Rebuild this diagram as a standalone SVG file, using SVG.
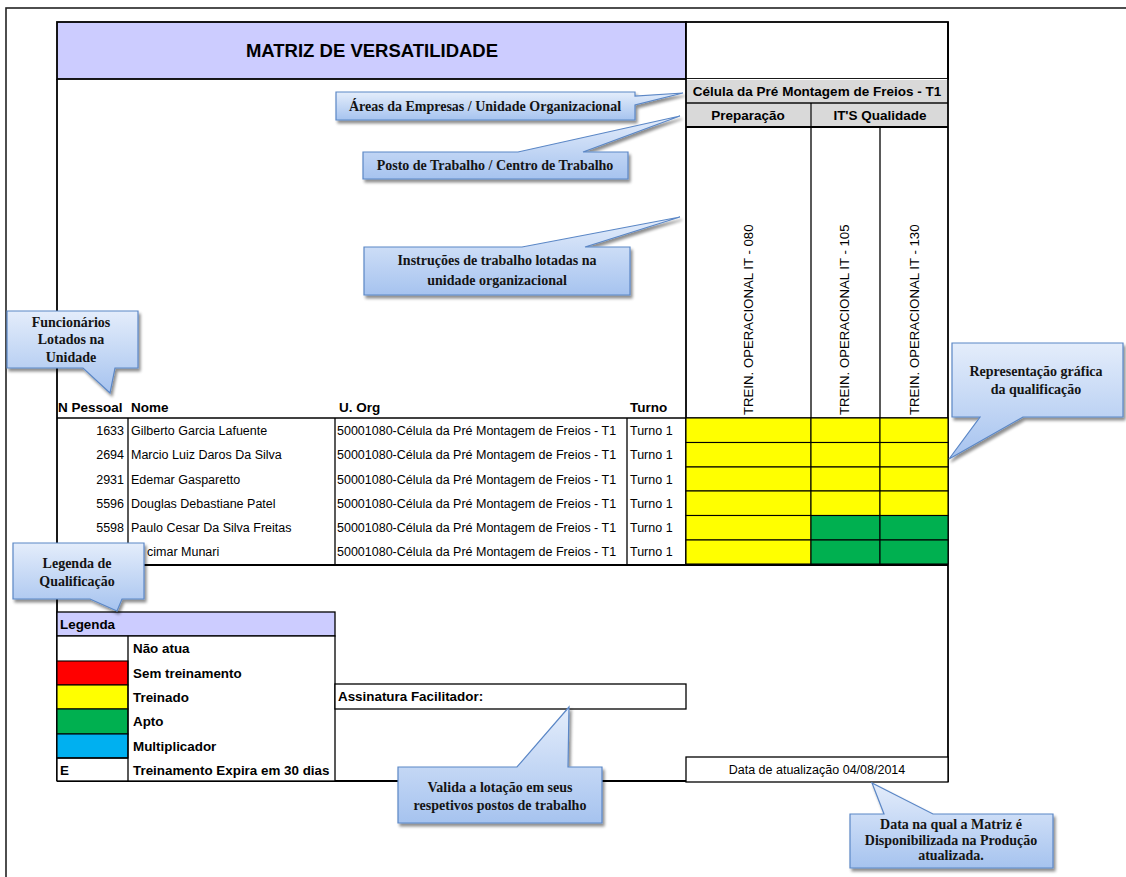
<svg xmlns="http://www.w3.org/2000/svg" width="1126" height="877" viewBox="0 0 1126 877">
<style>
.s{font-family:"Liberation Sans",Arial,sans-serif;fill:#000}
.b{font-weight:bold}
.t{font-size:12.5px}
.h{font-size:13.5px;font-weight:bold}
.lg{font-size:13.4px;font-weight:bold}
.ln{stroke:#000;stroke-width:1.3}
.th{stroke:#000;stroke-width:1.8}
.cell{stroke:#000;stroke-width:1.1}
.y{fill:#FFFF00}
.g{fill:#00B050}
.lav{fill:#CCCCFF}
.wh{fill:#fff}
.gr{fill:#D9D9D9;stroke:#fff;stroke-width:1}
.co{fill:url(#cg);stroke:#5b87c6;stroke-width:1.2;filter:url(#sh)}
.ct{font-family:"Liberation Serif","Times New Roman",serif;font-weight:bold;font-size:14px;fill:#141414;text-anchor:middle}
.rv{font-family:"Liberation Sans",Arial,sans-serif;font-size:13.2px;fill:#000}
</style>
<defs>
<linearGradient id="cg" x1="0" y1="0" x2="0" y2="1">
<stop offset="0" stop-color="#e4edfb"/>
<stop offset="1" stop-color="#a6c3ef"/>
</linearGradient>
<filter id="sh" x="-10%" y="-10%" width="130%" height="140%">
<feGaussianBlur in="SourceAlpha" stdDeviation="1.6"/>
<feOffset dx="2" dy="3" result="o"/>
<feComponentTransfer><feFuncA type="linear" slope="0.45"/></feComponentTransfer>
<feMerge><feMergeNode/><feMergeNode in="SourceGraphic"/></feMerge>
</filter>
</defs>
<rect width="1126" height="877" fill="#fff"/>
<rect x="6" y="8" width="1130" height="880" fill="none" stroke="#222" stroke-width="1.6"/>

<g id="title">
<rect x="57" y="22" width="629" height="57" class="th lav"/>
<text x="372" y="57" class="s b" font-size="18.5" text-anchor="middle">MATRIZ DE VERSATILIDADE</text>
</g>
<g id="title-right">
<rect x="686" y="22" width="262" height="57" class="th wh"/>
</g>
<g id="header-area">
<rect x="686.5" y="79.5" width="261" height="23" class="gr"/>
<text x="817" y="96" class="s h" text-anchor="middle">Célula da Pré Montagem de Freios - T1</text>
<rect x="686.5" y="103.5" width="124" height="23" class="gr"/>
<text x="748" y="120" class="s h" text-anchor="middle">Preparação</text>
<rect x="811.5" y="103.5" width="136" height="23" class="gr"/>
<text x="880" y="120" class="s h" text-anchor="middle">IT'S Qualidade</text>
<line x1="686" y1="103" x2="948" y2="103" class="ln"/>
<line x1="811" y1="103" x2="811" y2="127" class="ln"/>
<line x1="686" y1="127" x2="948" y2="127" class="th"/>
</g>
<g id="it-columns">
<line x1="811" y1="127" x2="811" y2="418" class="ln"/>
<line x1="880" y1="127" x2="880" y2="418" class="ln"/>
<text transform="translate(753,415) rotate(-90)" class="rv">TREIN. OPERACIONAL IT - 080</text>
<text transform="translate(849,415) rotate(-90)" class="rv">TREIN. OPERACIONAL IT - 105</text>
<text transform="translate(919,415) rotate(-90)" class="rv">TREIN. OPERACIONAL IT - 130</text>
</g>
<g id="frame">
<line x1="57" y1="79" x2="57" y2="781" class="th"/>
<line x1="686" y1="79" x2="686" y2="565" class="th"/>
<line x1="948" y1="22" x2="948" y2="782" class="th"/>
<line x1="57" y1="781" x2="948" y2="781" class="th"/>
<line x1="57" y1="565" x2="948" y2="565" class="th"/>
</g>
<g id="employee-table">
<text x="58" y="412" class="s h">N Pessoal</text>
<text x="131" y="412" class="s h">Nome</text>
<text x="339" y="412" class="s h">U. Org</text>
<text x="630" y="412" class="s h">Turno</text>
<line x1="57" y1="418" x2="948" y2="418" class="ln"/>
<line x1="128" y1="418" x2="128" y2="565" class="ln"/>
<line x1="335" y1="418" x2="335" y2="565" class="ln"/>
<line x1="627" y1="418" x2="627" y2="565" class="ln"/>
<g class="s t">
<text x="124" y="435" text-anchor="end">1633</text><text x="131" y="435">Gilberto Garcia Lafuente</text><text x="337" y="435">50001080-Célula da Pré Montagem de Freios - T1</text><text x="630" y="435">Turno 1</text>
<text x="124" y="459" text-anchor="end">2694</text><text x="131" y="459">Marcio Luiz Daros Da Silva</text><text x="337" y="459">50001080-Célula da Pré Montagem de Freios - T1</text><text x="630" y="459">Turno 1</text>
<text x="124" y="483.5" text-anchor="end">2931</text><text x="131" y="483.5">Edemar Gasparetto</text><text x="337" y="483.5">50001080-Célula da Pré Montagem de Freios - T1</text><text x="630" y="483.5">Turno 1</text>
<text x="124" y="507.5" text-anchor="end">5596</text><text x="131" y="507.5">Douglas Debastiane Patel</text><text x="337" y="507.5">50001080-Célula da Pré Montagem de Freios - T1</text><text x="630" y="507.5">Turno 1</text>
<text x="124" y="532" text-anchor="end">5598</text><text x="131" y="532">Paulo Cesar Da Silva Freitas</text><text x="337" y="532">50001080-Célula da Pré Montagem de Freios - T1</text><text x="630" y="532">Turno 1</text>
<text x="147" y="556">cimar Munari</text><text x="337" y="556">50001080-Célula da Pré Montagem de Freios - T1</text><text x="630" y="556">Turno 1</text>
</g>
</g>
<g id="qualification-grid">
<rect x="686" y="418" width="125" height="24.5" class="cell y"/><rect x="811" y="418" width="69" height="24.5" class="cell y"/><rect x="880" y="418" width="68" height="24.5" class="cell y"/>
<rect x="686" y="442.5" width="125" height="24.5" class="cell y"/><rect x="811" y="442.5" width="69" height="24.5" class="cell y"/><rect x="880" y="442.5" width="68" height="24.5" class="cell y"/>
<rect x="686" y="467" width="125" height="24" class="cell y"/><rect x="811" y="467" width="69" height="24" class="cell y"/><rect x="880" y="467" width="68" height="24" class="cell y"/>
<rect x="686" y="491" width="125" height="24.5" class="cell y"/><rect x="811" y="491" width="69" height="24.5" class="cell y"/><rect x="880" y="491" width="68" height="24.5" class="cell y"/>
<rect x="686" y="515.5" width="125" height="24.5" class="cell y"/><rect x="811" y="515.5" width="69" height="24.5" class="cell g"/><rect x="880" y="515.5" width="68" height="24.5" class="cell g"/>
<rect x="686" y="540" width="125" height="24" class="cell y"/><rect x="811" y="540" width="69" height="24" class="cell g"/><rect x="880" y="540" width="68" height="24" class="cell g"/>
</g>
<g id="legend">
<rect x="57" y="612" width="278" height="24" class="ln lav"/>
<text x="60" y="629" class="s lg">Legenda</text>
<rect x="57" y="636" width="278" height="145" class="ln wh"/>
<rect x="57" y="661" width="71" height="24" fill="#FF0000" class="cell"/>
<rect x="57" y="685" width="71" height="24" fill="#FFFF00" class="cell"/>
<rect x="57" y="709" width="71" height="25" fill="#00B050" class="cell"/>
<rect x="57" y="734" width="71" height="24" fill="#00B0F0" class="cell"/>
<line x1="128" y1="636" x2="128" y2="781" class="ln"/>
<line x1="57" y1="758" x2="128" y2="758" class="ln"/>
<text x="133" y="653" class="s lg">Não atua</text>
<text x="133" y="678" class="s lg">Sem treinamento</text>
<text x="133" y="702" class="s lg">Treinado</text>
<text x="133" y="726" class="s lg">Apto</text>
<text x="133" y="751" class="s lg">Multiplicador</text>
<text x="60" y="775" class="s lg" font-weight="normal">E</text>
<text x="133" y="775" class="s lg">Treinamento Expira em 30 dias</text>
</g>
<g id="signature">
<rect x="335" y="684" width="351" height="25" class="ln wh"/>
<text x="338" y="701" class="s lg">Assinatura Facilitador:</text>
</g>
<g id="update-date">
<rect x="686" y="757" width="262" height="25" class="ln wh"/>
<text x="817" y="774" class="s t" text-anchor="middle">Data de atualização 04/08/2014</text>
</g>

<g id="connectors"></g>

<g id="callout-areas">
<path class="co" d="M336,92 H635 V96 L683,93 L635,105 V120 H336 Z"/>
<text x="485" y="111" class="ct">Áreas da Empresas  / Unidade  Organizacional</text>
</g>
<g id="callout-posto">
<path class="co" d="M363,152 H518 L680,116 L583,152 H628 V179 H363 Z"/>
<text x="495" y="170" class="ct">Posto de Trabalho  / Centro de Trabalho</text>
</g>
<g id="callout-instrucoes">
<path class="co" d="M364,247 H522 L680,217 L585,247 H630 V295 H364 Z"/>
<text x="497" y="265" class="ct">Instruções de trabalho lotadas na</text>
<text x="497" y="285" class="ct">unidade organizacional</text>
</g>
<g id="callout-funcionarios">
<path class="co" d="M7,311 H138 V368 H115 L110,393 L83,368 H7 Z"/>
<text x="71" y="327" class="ct">Funcionários</text>
<text x="71" y="344" class="ct">Lotados  na</text>
<text x="71" y="362" class="ct">Unidade</text>
</g>
<g id="callout-representacao">
<path class="co" d="M952,343 H1123 V417 H1023 L949,459 L980,417 H952 Z"/>
<text x="1036" y="376" class="ct">Representação gráfica</text>
<text x="1036" y="394" class="ct">da qualificação</text>
</g>
<g id="callout-legenda">
<path class="co" d="M13,543 H144 V599 H122 L117,611 L90,599 H13 Z"/>
<text x="77" y="568" class="ct">Legenda de</text>
<text x="77" y="586" class="ct">Qualificação</text>
</g>
<g id="callout-valida">
<path class="co" d="M398,767 H517 L569,707 L568,767 H602 V823 H398 Z"/>
<text x="500" y="792" class="ct">Valida a lotação em seus</text>
<text x="500" y="810" class="ct">respetivos postos de trabalho</text>
</g>
<g id="callout-data">
<path class="co" d="M850,814 H884 L872,783 L933,814 H1053 V868 H850 Z"/>
<text x="951" y="829" class="ct">Data na qual a Matriz é</text>
<text x="951" y="845" class="ct">Disponibilizada na Produção</text>
<text x="951" y="860" class="ct">atualizada.</text>
</g>
</svg>
